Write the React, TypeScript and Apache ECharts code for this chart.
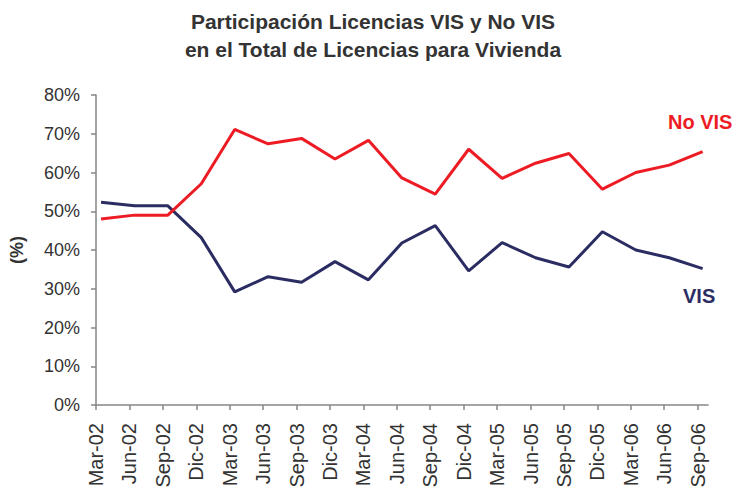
import React, { useEffect, useRef } from "react";
import * as echarts from "echarts";

const categories = [
  "Mar-02", "Jun-02", "Sep-02", "Dic-02",
  "Mar-03", "Jun-03", "Sep-03", "Dic-03",
  "Mar-04", "Jun-04", "Sep-04", "Dic-04",
  "Mar-05", "Jun-05", "Sep-05", "Dic-05",
  "Mar-06", "Jun-06", "Sep-06",
];

const visValues = [
  52.3, 51.4, 51.4, 43.2, 29.2, 33.1, 31.7, 37.0, 32.3, 41.8,
  46.3, 34.6, 41.9, 38.0, 35.6, 44.7, 40.0, 38.0, 35.2,
];

const noVisValues = [
  48.0, 49.0, 49.0, 57.1, 71.1, 67.4, 68.8, 63.5, 68.3, 58.6,
  54.4, 66.0, 58.5, 62.4, 64.9, 55.7, 60.0, 61.9, 65.4,
];

const titleLines = [
  "Participación Licencias VIS y No VIS",
  "en el Total de Licencias para Vivienda",
];

const FONT = "'Liberation Sans', Arial, Helvetica, sans-serif";
const RED = "#ED1C24";
const NAVY = "#2B2D62";
const AXIS = "#868686";
const TEXT = "#333333";

export default function App() {
  const ref = useRef<HTMLDivElement>(null);

  useEffect(() => {
    const chart = echarts.init(ref.current!, null, { renderer: "svg" });
    const pointOffset = 0.15;
    const tickValues = categories.map((_, i) => i);

    chart.setOption({
      animation: false,
      backgroundColor: "#ffffff",
      grid: {
        left: 96,
        right: 24,
        top: 95,
        bottom: 83,
        containLabel: false,
        outerBoundsMode: "none",
      },
      graphic: [
        {
          type: "text",
          x: 373,
          y: 7.5,
          style: {
            text: titleLines.join("\n"),
            fill: TEXT,
            font: `bold 21px ${FONT}`,
            lineHeight: 28,
            align: "center",
            verticalAlign: "top",
          },
        },
        {
          type: "text",
          x: 668,
          y: 122,
          style: {
            text: "No VIS",
            fill: RED,
            font: `bold 20px ${FONT}`,
            align: "left",
            verticalAlign: "middle",
          },
        },
        {
          type: "text",
          x: 683,
          y: 296,
          style: {
            text: "VIS",
            fill: NAVY,
            font: `bold 20px ${FONT}`,
            align: "left",
            verticalAlign: "middle",
          },
        },
      ],
      xAxis: {
        type: "value",
        min: 0,
        max: 18.31,
        axisLine: { show: true, onZero: false, lineStyle: { color: AXIS, width: 1.5 } },
        axisTick: {
          show: true,
          customValues: tickValues,
          length: 5,
          lineStyle: { color: AXIS, width: 1.5 },
        },
        axisLabel: {
          customValues: tickValues,
          formatter: (v: number) => categories[Math.round(v)] ?? "",
          rotate: 90,
          margin: 18,
          fontSize: 20,
          fontFamily: FONT,
          color: TEXT,
        },
        splitLine: { show: false },
      },
      yAxis: {
        type: "value",
        min: 0,
        max: 80,
        interval: 10,
        name: "(%)",
        nameLocation: "middle",
        nameRotate: 90,
        nameGap: 70,
        nameTextStyle: { fontSize: 18, fontWeight: "bold", fontFamily: FONT, color: TEXT },
        axisLine: { show: true, lineStyle: { color: AXIS, width: 1.5 } },
        axisTick: { show: true, length: 5, lineStyle: { color: AXIS, width: 1.5 } },
        axisLabel: {
          formatter: "{value}%",
          margin: 16,
          fontSize: 18,
          fontFamily: FONT,
          color: TEXT,
        },
        splitLine: { show: false },
      },
      series: [
        {
          name: "VIS",
          type: "line",
          data: visValues.map((v, i) => [i + pointOffset, v]),
          symbol: "none",
          lineStyle: { color: NAVY, width: 3 },
          itemStyle: { color: NAVY },
        },
        {
          name: "No VIS",
          type: "line",
          data: noVisValues.map((v, i) => [i + pointOffset, v]),
          symbol: "none",
          lineStyle: { color: RED, width: 3 },
          itemStyle: { color: RED },
        },
      ],
    });

    return () => chart.dispose();
  }, []);

  return (
    <div
      ref={ref}
      style={{ position: "fixed", left: 0, top: 0, width: 732, height: 488 }}
    />
  );
}
